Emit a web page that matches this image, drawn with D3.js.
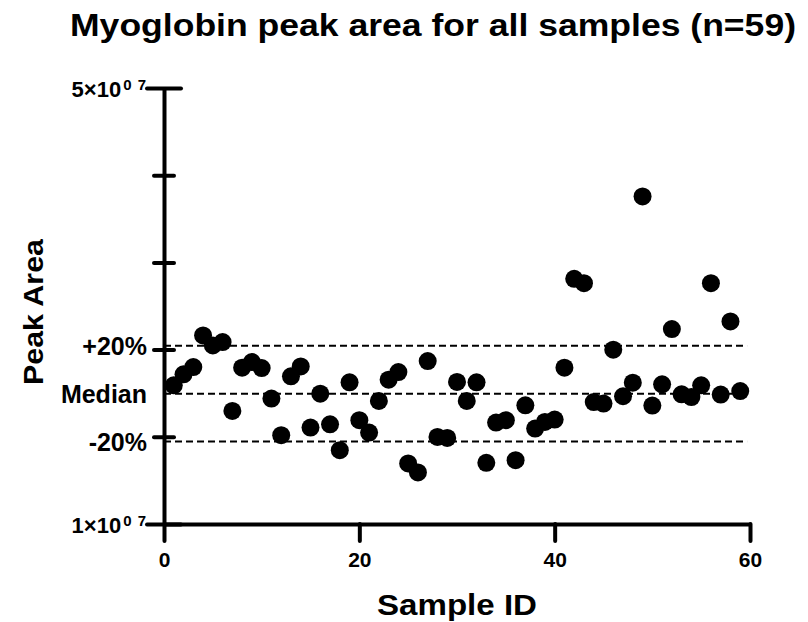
<!DOCTYPE html>
<html>
<head>
<meta charset="utf-8">
<script src="https://cdn.jsdelivr.net/npm/d3@7"></script>
<style>
  body { margin: 0; background: #fff; }
  text { font-family: "Liberation Sans", Arial, sans-serif; font-weight: bold; fill: #000; }
</style>
</head>
<body>
<div id="chart"></div>
<script>
// data: sample id en peak area
const sampleIds = d3.range(1, 60)
const peakAreas = [
  2.272e7, 2.373e7, 2.440e7, 2.730e7, 2.638e7, 2.669e7, 2.037e7, 2.434e7, 2.486e7, 2.431e7,
  2.151e7, 1.815e7, 2.355e7, 2.446e7, 1.885e7, 2.196e7, 1.915e7, 1.677e7, 2.300e7, 1.952e7,
  1.839e7, 2.129e7, 2.324e7, 2.394e7, 1.556e7, 1.473e7, 2.495e7, 1.799e7, 1.790e7, 2.303e7,
  2.129e7, 2.300e7, 1.561e7, 1.931e7, 1.952e7, 1.586e7, 2.089e7, 1.876e7, 1.936e7, 1.958e7,
  2.434e7, 3.249e7, 3.209e7, 2.119e7, 2.105e7, 2.599e7, 2.172e7, 2.297e7, 4.005e7, 2.087e7,
  2.281e7, 2.788e7, 2.190e7, 2.165e7, 2.272e7, 3.209e7, 2.187e7, 2.858e7, 2.220e7
]
const medianArea = 2.196e7
const refLevels = [1.2, 1.0, 0.8]   // +20%, median, -20%
const refLabels = ["+20%", "Median", "-20%"]

// as-instellingen
const xTicks = [0, 20, 40, 60]
const yTicks = [1e7, 1.8e7, 2.6e7, 3.4e7, 4.2e7, 5e7]
const yTickLabels = {1e7: "1", 5e7: "5"}

const width = 808
const height = 622
const margin = {top: 88, right: 58, bottom: 98, left: 164}

var xScale = d3.scaleLinear()
    .domain([0, 60])
    .range([margin.left, width - margin.right])

var yScale = d3.scaleLinear()
    .domain([1e7, 5e7])
    .range([height - margin.bottom, margin.top])

var svg = d3.select("#chart")
  .append("svg")
    .attr("width", width)
    .attr("height", height)

// titel
svg.append("text")
    .attr("x", 433)
    .attr("y", 36)
    .attr("text-anchor", "middle")
    .attr("textLength", 726)
    .attr("lengthAdjust", "spacingAndGlyphs")
    .style("font-size", "31px")
    .text("Myoglobin peak area for all samples (n=59)")

// stippellijnen voor mediaan en +/-20%
svg.append("g")
    .selectAll("line")
    .data(refLevels)
    .enter()
    .append("line")
    .attr("x1", xScale(0))
    .attr("x2", xScale(59.7))
    .attr("y1", function(d) { return yScale(d * medianArea); })
    .attr("y2", function(d) { return yScale(d * medianArea); })
    .attr("stroke", "#000")
    .attr("stroke-width", 2)
    .attr("stroke-dasharray", "7,4")

// y-as
var yAxis = svg.append("g")
    .attr("transform", "translate(" + margin.left + ",0)")
    .call(d3.axisLeft(yScale).tickValues(yTicks).tickSize(10).tickSizeOuter(0).tickFormat(""))

yAxis.select(".domain").attr("stroke-width", 4)
yAxis.selectAll(".tick line")
    .attr("stroke-width", 4)
    .attr("stroke-linecap", "round")
    .attr("x1", function(d) { return (d == 1e7 || d == 5e7) ? 17 : 10; })
    .attr("x2", function(d) { return (d == 1e7 || d == 5e7) ? -17 : -10; })

// 5x10^7 en 1x10^7 labels
yAxis.selectAll(".tick").each(function(d) {
  var lab = yTickLabels[d]
  if (!lab) return
  var t = d3.select(this).select("text")
      .attr("x", -17)
      .attr("y", 0)
      .attr("dy", "0.38em")
      .style("font-size", "22px")
  t.append("tspan").text(lab + "\u00d710")
  t.append("tspan")
      .attr("dx", 2)
      .attr("dy", "-0.45em")
      .style("font-size", "15px")
      .style("letter-spacing", "1px")
      .text("0\u00a07")
})

// labels voor mediaan en +/-20%
svg.append("g")
    .selectAll("text")
    .data(refLevels)
    .enter()
    .append("text")
    .attr("x", margin.left - 17)
    .attr("y", function(d) { return yScale(d * medianArea); })
    .attr("dy", "0.36em")
    .attr("text-anchor", "end")
    .style("font-size", "25px")
    .text(function(d, i) { return refLabels[i]; })

// x-as
var xAxis = svg.append("g")
    .attr("transform", "translate(0," + (height - margin.bottom) + ")")
    .call(d3.axisBottom(xScale).tickValues(xTicks).tickSize(17).tickSizeOuter(0))

xAxis.select(".domain").attr("stroke-width", 4)
xAxis.selectAll(".tick line").attr("stroke-width", 4).attr("stroke-linecap", "round")
xAxis.selectAll(".tick text")
    .attr("y", 43)
    .attr("dy", 0)
    .style("font-size", "21px")
    .style("font-family", "'Liberation Sans', Arial, sans-serif")
    .style("font-weight", "bold")

// as-titels
svg.append("text")
    .attr("x", 457)
    .attr("y", 615)
    .attr("text-anchor", "middle")
    .attr("textLength", 160)
    .attr("lengthAdjust", "spacingAndGlyphs")
    .style("font-size", "30px")
    .text("Sample ID")

svg.append("text")
    .attr("transform", "translate(43,312) rotate(-90)")
    .attr("text-anchor", "middle")
    .attr("textLength", 146)
    .attr("lengthAdjust", "spacingAndGlyphs")
    .style("font-size", "28px")
    .text("Peak Area")

// punten
svg.append("g")
    .selectAll("circle")
    .data(peakAreas)
    .enter()
    .append("circle")
    .attr("cx", function(d, i) { return xScale(sampleIds[i]); })
    .attr("cy", function(d) { return yScale(d); })
    .attr("r", 9)
    .attr("fill", "#000")
</script>
</body>
</html>
